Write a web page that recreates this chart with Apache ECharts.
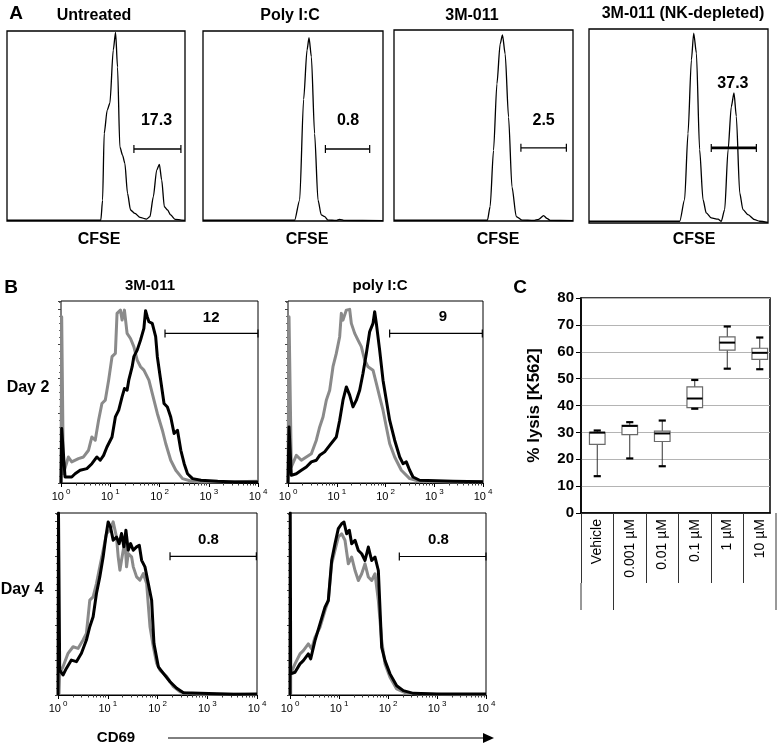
<!DOCTYPE html>
<html>
<head>
<meta charset="utf-8">
<script src="https://cdn.jsdelivr.net/npm/echarts@6/dist/echarts.min.js"></script>
<style>
  html, body { margin: 0; padding: 0; background: #fff; }
  #main { width: 777px; height: 747px; }
</style>
</head>
<body>
<div id="main"></div>
<script>
// ---- panel A : CFSE histograms (x = relative CFSE 0-100, y = % of plot height)
var untreatedCfse = [[0,0.4],[52.7,0.4],[53.7,11],[54.6,46],[56.3,58.4],[57.8,62],[59.7,90],[61.0,99.3],[62.1,81],[63.4,39],[64.9,34.7],[66.2,30.4],[67.7,14.6],[69.4,5.8],[71.9,4],[74.7,1.9],[78.4,1],[80.3,2.3],[82.2,12.8],[84.1,26.8],[85.6,29.8],[86.9,21.6],[88.4,7.5],[90.2,5.8],[91.9,3.2],[94.4,0.9],[100,0.3]];
var polyCfse = [[0,0.4],[50.9,0.4],[53.7,11],[55.9,64],[57.8,90],[58.9,96.5],[60.2,86.5],[62,46],[63.9,11],[65.7,3.2],[67.6,2.3],[69.4,0.5],[74,0.3],[75.9,0.9],[78.7,0.3],[100,0.2]];
var m011Cfse = [[0,0.4],[52.2,0.4],[53.7,7.5],[55.6,37],[57.5,71.8],[59.3,92.7],[60.6,97.4],[62.1,87.5],[64,54.4],[65.9,17.9],[68.3,2.3],[71.5,0.5],[78,0.3],[80.8,0.9],[83.6,2.8],[85.4,1.4],[87.3,0.3],[100,0.2]];
var nkCfse = [[0,0.9],[50.7,0.9],[53.4,12],[55.3,46],[57.2,84],[58.5,97.9],[60,87.6],[61.8,37.8],[63.7,12],[65.5,5.2],[68.3,2.6],[72.1,2],[73.9,0.9],[75.8,6.9],[77.7,37.8],[79.5,60],[81,67],[82.3,55],[84.2,15.5],[86,6.9],[88.8,4.3],[92.6,1.7],[95.3,0.9],[100,0.3]];
var titlesA = ['Untreated', 'Poly I:C', '3M-011', '3M-011 (NK-depleted)'];
// gate: [start, end, height, labelX, labelY]
var gatesA = [[71.3,97.7,37.9,84,53],[68,92.6,37.9,80.6,53],[70.9,96.3,38.3,83.6,52.7],[68.3,93.5,38.7,80.4,72]];
var gateLabelsA = ['17.3', '0.8', '2.5', '37.3'];

// ---- panel B : CD69 histograms (x = log10 intensity, y = % of plot height)
var grayDay2M011 = [[0,0],[0.014,91.4],[0.048,5.1],[0.15,14.3],[0.218,11.6],[0.354,13.4],[0.457,14.3],[0.559,18.0],[0.627,25.3],[0.695,23.5],[0.763,34.5],[0.831,43.7],[0.899,45.5],[0.967,56.5],[1.036,69.4],[1.104,71.2],[1.138,93.2],[1.206,95.0],[1.240,89.5],[1.288,95.0],[1.342,82.2],[1.411,79.4],[1.479,74.9],[1.547,67.5],[1.615,63.9],[1.683,62.0],[1.785,56.5],[1.853,49.2],[1.956,38.2],[2.058,29.0],[2.126,21.7],[2.228,12.5],[2.331,7.0],[2.467,2.4],[2.637,1.1],[2.828,0.6],[3.523,0.7],[4.0,0.9]];
var blackDay2M011 = [[0,0],[0.014,29.9],[0.082,3.3],[0.218,3.3],[0.286,5.1],[0.388,7.0],[0.525,7.9],[0.627,10.6],[0.729,14.3],[0.797,12.5],[0.865,15.2],[0.933,19.8],[1.036,25.3],[1.104,36.3],[1.172,40.0],[1.240,47.3],[1.288,51.9],[1.342,51.0],[1.376,56.5],[1.445,63.9],[1.479,69.4],[1.547,73.0],[1.615,78.5],[1.683,85.0],[1.717,94.7],[1.751,91.4],[1.785,88.6],[1.853,87.7],[1.922,80.4],[1.956,69.4],[2.024,56.5],[2.092,43.7],[2.160,41.8],[2.228,36.3],[2.296,27.2],[2.365,29.0],[2.433,18.0],[2.501,10.6],[2.569,5.1],[2.671,2.4],[2.842,1.5],[3.182,0.9],[3.523,0.6],[4.0,0.6]];
var grayDay2Poly = [[0,0],[0.021,91.4],[0.068,8.8],[0.171,15.2],[0.274,12.5],[0.376,14.3],[0.479,16.1],[0.581,23.5],[0.650,30.8],[0.718,36.3],[0.786,45.5],[0.855,51.0],[0.923,63.9],[0.991,71.2],[1.060,80.4],[1.094,93.2],[1.128,89.5],[1.197,95.0],[1.265,95.4],[1.299,87.7],[1.368,82.2],[1.436,78.5],[1.504,74.9],[1.573,67.5],[1.641,63.9],[1.744,62.0],[1.812,54.7],[1.880,47.3],[1.949,40.0],[2.017,30.8],[2.085,21.7],[2.188,14.3],[2.325,7.0],[2.496,2.4],[2.701,0.9],[3.385,0.6],[4.0,0.7]];
var blackDay2Poly = [[0,0],[0.021,30.8],[0.068,4.2],[0.171,5.1],[0.274,7.0],[0.376,8.8],[0.479,11.6],[0.581,12.5],[0.650,15.2],[0.752,17.1],[0.855,20.7],[0.991,25.3],[1.060,34.5],[1.128,45.5],[1.197,52.8],[1.265,48.3],[1.333,41.8],[1.402,45.5],[1.470,51.0],[1.538,60.2],[1.607,71.2],[1.675,83.1],[1.744,87.7],[1.778,94.1],[1.812,87.7],[1.880,73.0],[1.949,56.5],[2.017,45.5],[2.085,34.5],[2.188,23.5],[2.291,14.3],[2.359,10.6],[2.427,11.6],[2.496,7.0],[2.564,3.3],[2.701,1.5],[3.385,0.9],[4.0,0.7]];
var grayDay4M011 = [[0.02,0],[0.034,11.9],[0.101,15.5],[0.202,22.9],[0.303,26.5],[0.403,25.6],[0.504,30.2],[0.571,33.8],[0.639,52.1],[0.706,53.9],[0.773,61.2],[0.840,70.4],[0.908,79.5],[0.975,88.7],[1.042,90.5],[1.109,95.1],[1.143,94.1],[1.176,86.8],[1.210,75.9],[1.244,68.6],[1.277,74.0],[1.345,85.0],[1.378,70.4],[1.412,77.7],[1.479,75.9],[1.513,70.4],[1.580,64.9],[1.647,63.1],[1.714,66.7],[1.782,61.2],[1.849,37.5],[1.916,26.5],[1.983,17.4],[2.050,13.7],[2.185,10.1],[2.319,4.6],[2.454,1.8],[2.588,0.9],[2.857,0.4],[3.529,0.4],[4.0,0.2]];
var blackDay4M011 = [[0,0],[0.01,100],[0.034,13.7],[0.101,11.0],[0.168,14.6],[0.269,19.2],[0.370,18.3],[0.471,22.9],[0.571,30.2],[0.639,37.5],[0.706,43.0],[0.773,55.8],[0.840,64.9],[0.908,75.9],[0.961,86.8],[1.008,95.1],[1.055,92.3],[1.109,85.0],[1.176,86.8],[1.230,83.2],[1.277,88.7],[1.324,81.4],[1.365,90.5],[1.412,79.5],[1.459,83.2],[1.513,79.5],[1.580,81.4],[1.634,82.3],[1.681,74.0],[1.748,70.4],[1.815,61.2],[1.882,52.1],[1.929,28.3],[2.017,15.5],[2.118,11.9],[2.252,7.3],[2.387,3.7],[2.521,1.3],[2.857,0.9],[3.529,0.4],[4.0,0.5]];
var grayDay4Poly = [[0.014,0],[0.014,11.6],[0.102,17.1],[0.204,22.6],[0.272,24.4],[0.374,28.1],[0.442,25.3],[0.510,31.7],[0.612,37.2],[0.714,46.4],[0.782,51.9],[0.850,72.1],[0.918,79.4],[0.986,86.8],[1.054,88.6],[1.122,85.0],[1.190,72.1],[1.259,75.8],[1.327,68.4],[1.395,62.9],[1.463,66.6],[1.531,72.1],[1.599,64.8],[1.667,62.9],[1.735,66.6],[1.803,51.9],[1.871,29.9],[1.939,17.1],[2.041,9.7],[2.177,3.3],[2.381,0.9],[2.653,0.6],[3.333,0.2],[4.0,0.2]];
var blackDay4Poly = [[0,0],[0.005,100],[0.014,11.6],[0.102,12.5],[0.204,17.1],[0.272,18.9],[0.374,22.6],[0.422,19.8],[0.510,29.9],[0.612,39.1],[0.714,48.3],[0.782,51.9],[0.850,73.9],[0.918,83.1],[0.986,91.4],[1.054,94.1],[1.102,95.0],[1.156,88.6],[1.211,90.5],[1.259,83.1],[1.327,85.0],[1.395,79.4],[1.463,77.6],[1.531,73.9],[1.599,81.3],[1.667,73.9],[1.735,75.8],[1.803,68.4],[1.871,26.2],[1.939,18.9],[2.041,11.6],[2.177,5.1],[2.313,2.4],[2.517,0.9],[2.993,0.6],[4.0,0.6]];
var gatesB = [[2.112,4.0,82.2,3.05,90.5],[2.085,3.986,82.2,3.18,91.4],[2.252,3.987,76.2,3.025,85],[2.231,4.0,76.1,3.03,85]];
var gateLabelsB = ['12', '9', '0.8', '0.8'];

// ---- panel C : % lysis of K562
var doses = ['Vehicle', '0.001 µM', '0.01 µM', '0.1 µM', '1 µM', '10 µM'];
var lysisMin = [13.7, 20.3, 17.4, 38.8, 53.7, 53.5];
var lysisQ1 = [25.5, 29.2, 26.6, 39.2, 60.6, 57.2];
var lysisMedian = [29.9, 32.4, 29.6, 42.6, 63.4, 59.6];
var lysisQ3 = [30.0, 32.6, 30.5, 46.9, 65.5, 61.3];
var lysisMax = [30.7, 33.8, 34.4, 49.5, 69.4, 65.3];

var FONT = "'Liberation Sans', Arial, sans-serif";
var chart = echarts.init(document.getElementById('main'));

// minor log ticks (2..9 in each decade)
var logMinor = [];
for (var d = 0; d < 4; d++) {
  for (var k = 2; k <= 9; k++) logMinor.push(d + Math.log10(k));
}

var gridsA = [
  {left: 7, top: 31, width: 178, height: 190},
  {left: 203, top: 31, width: 180, height: 190},
  {left: 394, top: 30, width: 179, height: 191},
  {left: 589, top: 29, width: 179, height: 194}
];
var gridsB = [
  {left: 61, top: 301, width: 197, height: 182},
  {left: 288, top: 301, width: 195, height: 182},
  {left: 58, top: 513, width: 199, height: 182},
  {left: 290, top: 513, width: 196, height: 182}
];
var gridC = {left: 581, top: 298, width: 189, height: 215};

var grids = [], xAxes = [], yAxes = [], series = [];

gridsA.forEach(function (g) {
  grids.push(Object.assign({show: true, borderColor: '#000', borderWidth: 1.3, backgroundColor: '#fff'}, g));
});
gridsB.forEach(function (g) {
  grids.push(Object.assign({show: true, borderColor: '#000', borderWidth: 1}, g));
});
grids.push(Object.assign({show: true, borderColor: '#000', borderWidth: 1.5}, gridC));

// A axes
[0, 1, 2, 3].forEach(function (i) {
  xAxes.push({type: 'value', gridIndex: i, min: 0, max: 100, show: false});
  yAxes.push({type: 'value', gridIndex: i, min: 0, max: 100, show: false});
});
// B axes (major)
[0, 1, 2, 3].forEach(function (i) {
  xAxes.push({
    type: 'value', gridIndex: 4 + i, min: 0, max: 4, interval: 1, position: 'bottom',
    axisLine: {onZero: false, lineStyle: {color: '#000', width: 1}},
    axisTick: {length: 4, lineStyle: {color: '#000'}},
    splitLine: {show: false},
    axisLabel: {
      margin: 5, color: '#000',
      formatter: function (v) { return '{b|10}{s|' + v + '}'; },
      rich: {
        b: {fontSize: 11, fontFamily: FONT, color: '#000', verticalAlign: 'bottom'},
        s: {fontSize: 8, fontFamily: FONT, color: '#000', verticalAlign: 'bottom', padding: [0, 0, 6, 2]}
      }
    }
  });
  yAxes.push({
    type: 'value', gridIndex: 4 + i, min: 0, max: 100, interval: 19.1, position: 'left',
    axisLine: {show: false, onZero: false},
    axisTick: {show: true, length: 3, lineStyle: {color: '#444'}},
    minorTick: {show: true, splitNumber: 5, length: 2, lineStyle: {color: '#666'}},
    axisLabel: {show: false},
    splitLine: {show: false}
  });
});
// B axes (minor log ticks)
[0, 1, 2, 3].forEach(function (i) {
  xAxes.push({
    type: 'value', gridIndex: 4 + i, min: 0, max: 4, position: 'bottom', offset: 0,
    axisLine: {show: false, onZero: false},
    axisTick: {show: true, length: 2.5, customValues: logMinor, lineStyle: {color: '#333'}},
    axisLabel: {show: false},
    splitLine: {show: false}
  });
});
// C axes
xAxes.push({
  type: 'value', gridIndex: 8, min: -0.5, max: 5.315, position: 'bottom',
  axisLine: {onZero: false, lineStyle: {color: '#000', width: 1.5}},
  axisTick: {show: true, length: 70, customValues: [-0.5, 0.5, 1.5, 2.5, 3.5, 4.5], lineStyle: {color: '#333', width: 1}},
  axisLabel: {
    customValues: [0, 1, 2, 3, 4, 5], rotate: 90, margin: 6,
    fontFamily: FONT, fontSize: 14, color: '#000',
    formatter: function (v) { return doses[Math.round(v)]; }
  },
  splitLine: {show: false}
});
yAxes.push({
  type: 'value', gridIndex: 8, min: 0, max: 80, interval: 10, position: 'left',
  name: '% lysis [K562]', nameLocation: 'middle', nameRotate: 90, nameGap: 38,
  nameTextStyle: {fontFamily: FONT, fontWeight: 'bold', fontSize: 17, color: '#000'},
  axisLine: {show: true, onZero: false, lineStyle: {color: '#000', width: 1.5}},
  axisTick: {show: true, length: 5, lineStyle: {color: '#000'}},
  axisLabel: {fontFamily: FONT, fontWeight: 'bold', fontSize: 15, color: '#000', margin: 7},
  splitLine: {show: true, lineStyle: {color: '#b4b4b4', width: 1}}
});

// gate renderer
function gateSeries(xi, yi, gate, label, lw, fontSize) {
  return {
    type: 'custom', xAxisIndex: xi, yAxisIndex: yi, clip: false, z: 5,
    data: [gate],
    encode: {x: [0, 1], y: 2},
    renderItem: function (params, api) {
      var y = api.value(2);
      var a = api.coord([api.value(0), y]);
      var b = api.coord([api.value(1), y]);
      var t = api.coord([api.value(3), api.value(4)]);
      var h = 4;
      var st = {stroke: '#000', lineWidth: lw};
      return {
        type: 'group', children: [
          {type: 'line', shape: {x1: a[0], y1: a[1], x2: b[0], y2: b[1]}, style: st},
          {type: 'line', shape: {x1: a[0], y1: a[1] - h, x2: a[0], y2: a[1] + h}, style: {stroke: '#000', lineWidth: 1.2}},
          {type: 'line', shape: {x1: b[0], y1: b[1] - h, x2: b[0], y2: b[1] + h}, style: {stroke: '#000', lineWidth: 1.2}},
          {type: 'text', x: t[0], y: t[1], style: {text: label, font: 'bold ' + fontSize + 'px ' + FONT, fill: '#000', align: 'center', verticalAlign: 'middle'}}
        ]
      };
    }
  };
}

// A series
[untreatedCfse, polyCfse, m011Cfse, nkCfse].forEach(function (d, i) {
  series.push({
    type: 'line', xAxisIndex: i, yAxisIndex: i, data: d, showSymbol: false,
    smooth: 0.25, smoothMonotone: 'x',
    lineStyle: {color: '#000', width: 1.3}
  });
  series.push(gateSeries(i, i, gatesA[i], gateLabelsA[i], i === 3 ? 2.6 : 1.3, 16));
});

// B series
var grayB = [grayDay2M011, grayDay2Poly, grayDay4M011, grayDay4Poly];
var blackB = [blackDay2M011, blackDay2Poly, blackDay4M011, blackDay4Poly];
[0, 1, 2, 3].forEach(function (i) {
  series.push({
    type: 'line', xAxisIndex: 4 + i, yAxisIndex: 4 + i, data: grayB[i], showSymbol: false,
    lineStyle: {color: '#8a8a8a', width: 3, join: 'round'}
  });
  series.push({
    type: 'line', xAxisIndex: 4 + i, yAxisIndex: 4 + i, data: blackB[i], showSymbol: false,
    lineStyle: {color: '#000', width: 3, join: 'round'}
  });
  series.push(gateSeries(4 + i, 4 + i, gatesB[i], gateLabelsB[i], 1.2, 15));
});

// C boxplot
var boxData = doses.map(function (d, i) {
  return [i, lysisMin[i], lysisQ1[i], lysisMedian[i], lysisQ3[i], lysisMax[i]];
});
series.push({
  type: 'custom', xAxisIndex: 12, yAxisIndex: 8, data: boxData, z: 5,
  encode: {x: 0, y: [1, 5]},
  renderItem: function (params, api) {
    var x = api.value(0);
    var band = api.size([1, 0])[0];
    var bw = band * 0.48, cw = band * 0.22;
    var pMin = api.coord([x, api.value(1)]);
    var pQ1 = api.coord([x, api.value(2)]);
    var pMed = api.coord([x, api.value(3)]);
    var pQ3 = api.coord([x, api.value(4)]);
    var pMax = api.coord([x, api.value(5)]);
    var cx = pMin[0];
    return {
      type: 'group', children: [
        {type: 'line', shape: {x1: cx, y1: pMax[1], x2: cx, y2: pQ3[1]}, style: {stroke: '#333', lineWidth: 1}},
        {type: 'line', shape: {x1: cx, y1: pQ1[1], x2: cx, y2: pMin[1]}, style: {stroke: '#333', lineWidth: 1}},
        {type: 'rect', shape: {x: cx - bw / 2, y: pQ3[1], width: bw, height: pQ1[1] - pQ3[1]}, style: {fill: '#fff', stroke: '#6a6a6a', lineWidth: 1.2}},
        {type: 'line', shape: {x1: cx - bw / 2, y1: pMed[1], x2: cx + bw / 2, y2: pMed[1]}, style: {stroke: '#000', lineWidth: 2}},
        {type: 'line', shape: {x1: cx - cw / 2, y1: pMax[1], x2: cx + cw / 2, y2: pMax[1]}, style: {stroke: '#000', lineWidth: 2.2}},
        {type: 'line', shape: {x1: cx - cw / 2, y1: pMin[1], x2: cx + cw / 2, y2: pMin[1]}, style: {stroke: '#000', lineWidth: 2.2}}
      ]
    };
  }
});

function txt(t, x, y, size, bold) {
  return {type: 'text', x: x, y: y, z: 10, style: {text: t, font: (bold === false ? '' : 'bold ') + size + 'px ' + FONT, fill: '#000', align: 'center', verticalAlign: 'middle'}};
}
function vline(x, y1, y2) {
  return {type: 'line', z: 10, shape: {x1: x, y1: y1, x2: x, y2: y2}, style: {stroke: '#333', lineWidth: 1}};
}

var graphics = [
  txt('A', 16, 14, 19),
  txt(titlesA[0], 94, 16, 16), txt(titlesA[1], 290, 16, 16), txt(titlesA[2], 472, 16, 16), txt(titlesA[3], 683, 14, 16),
  txt('CFSE', 99, 240, 16), txt('CFSE', 307, 240, 16), txt('CFSE', 498, 240, 16), txt('CFSE', 694, 240, 16),
  txt('B', 11, 288, 19),
  txt('3M-011', 150, 286, 15), txt('poly I:C', 380, 286, 15),
  txt('Day 2', 28, 388, 16), txt('Day 4', 22, 590, 16),
  txt('CD69', 116, 738, 15),
  {type: 'line', z: 10, shape: {x1: 168, y1: 738, x2: 485, y2: 738}, style: {stroke: '#000', lineWidth: 1}},
  {type: 'polygon', z: 10, shape: {points: [[483, 733], [494, 738], [483, 743]]}, style: {fill: '#000'}},
  txt('C', 520, 288, 19),
  vline(581, 583, 610), vline(613.5, 583, 610), vline(776, 513, 610)
];

chart.setOption({
  animation: false,
  backgroundColor: '#fff',
  grid: grids,
  xAxis: xAxes,
  yAxis: yAxes,
  series: series,
  graphic: graphics
});
</script>
</body>
</html>
